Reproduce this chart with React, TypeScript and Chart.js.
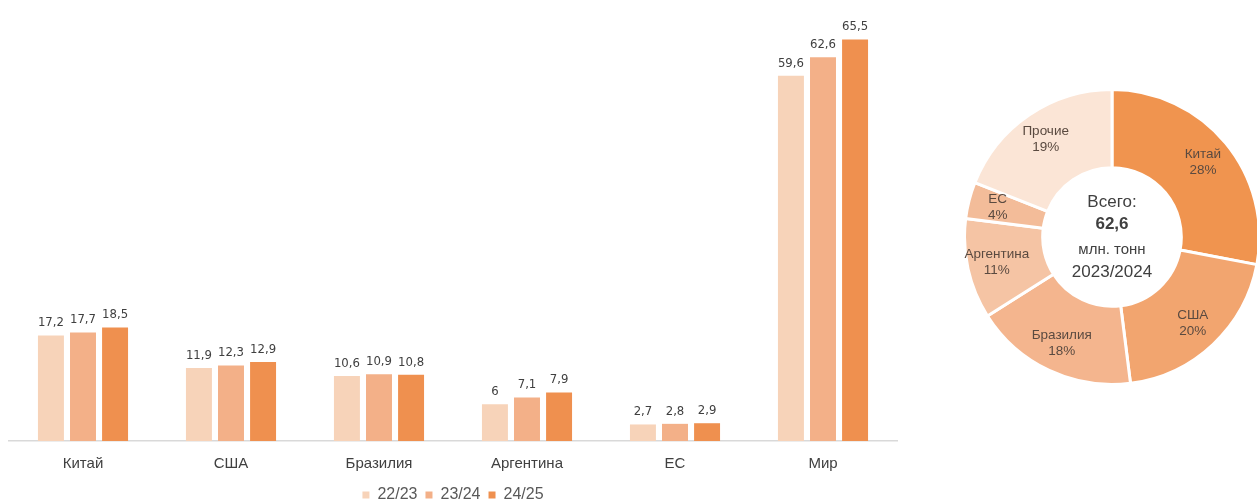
import React, { useEffect, useRef } from "react";
import { Chart, registerables } from "chart.js";

Chart.register(...registerables);

const categories = ["Китай", "США", "Бразилия", "Аргентина", "ЕС", "Мир"];
const seriesNames = ["22/23", "23/24", "24/25"];
const values2223 = [17.2, 11.9, 10.6, 6, 2.7, 59.6];
const values2324 = [17.7, 12.3, 10.9, 7.1, 2.8, 62.6];
const values2425 = [18.5, 12.9, 10.8, 7.9, 2.9, 65.5];
const barColors = ["#F7D3B9", "#F3B088", "#EF904F"];

const pieLabels = ["Китай", "США", "Бразилия", "Аргентина", "ЕС", "Прочие"];
const pieValues = [28, 20, 18, 11, 4, 19];
const pieColors = ["#F0944F", "#F2A56F", "#F4B58E", "#F5C4A4", "#F3BC99", "#FBE5D6"];
const centerLines = ["Всего:", "62,6", "млн. тонн", "2023/2024"];

const fmt = (v: number) => String(v).replace(".", ",");

const barLabelPlugin = {
  id: "barLabels",
  afterDatasetsDraw(chart: any) {
    const ctx = chart.ctx;
    ctx.save();
    ctx.font = "13px 'Liberation Sans Narrow', 'DejaVu Sans Condensed', sans-serif";
    ctx.fillStyle = "#404040";
    ctx.textAlign = "center";
    ctx.textBaseline = "bottom";
    chart.data.datasets.forEach((ds: any, i: number) => {
      const meta = chart.getDatasetMeta(i);
      meta.data.forEach((el: any, j: number) => {
        ctx.fillText(fmt(ds.data[j]), el.x, el.y - 6);
      });
    });
    ctx.restore();
  },
};

const donutLabelPlugin = {
  id: "donutLabels",
  afterDatasetsDraw(chart: any) {
    const ctx = chart.ctx;
    const meta = chart.getDatasetMeta(0);
    ctx.save();
    ctx.textAlign = "center";
    ctx.textBaseline = "middle";
    ctx.fillStyle = "#5A4A40";
    ctx.font = "13.5px 'Liberation Sans', Arial, sans-serif";
    meta.data.forEach((arc: any, i: number) => {
      const mid = (arc.startAngle + arc.endAngle) / 2;
      const r = arc.outerRadius * 0.8;
      const x = arc.x + Math.cos(mid) * r;
      const y = arc.y + Math.sin(mid) * r;
      ctx.fillText(pieLabels[i], x, y - 8);
      ctx.fillText(pieValues[i] + "%", x, y + 8);
    });
    const a0 = meta.data[0];
    const cx = a0.x;
    const cy = a0.y;
    ctx.fillStyle = "#404040";
    ctx.font = "17px 'Liberation Sans', Arial, sans-serif";
    ctx.fillText(centerLines[0], cx, cy - 35);
    ctx.font = "bold 17px 'Liberation Sans', Arial, sans-serif";
    ctx.fillText(centerLines[1], cx, cy - 13);
    ctx.font = "15px 'Liberation Sans', Arial, sans-serif";
    ctx.fillText(centerLines[2], cx, cy + 13);
    ctx.font = "17px 'Liberation Sans', Arial, sans-serif";
    ctx.fillText(centerLines[3], cx, cy + 35);
    ctx.restore();
  },
};

export default function App() {
  const barRef = useRef<HTMLCanvasElement>(null);
  const pieRef = useRef<HTMLCanvasElement>(null);

  useEffect(() => {
    document.body.style.margin = "0";
    const bar = new Chart(barRef.current!, {
      type: "bar",
      data: {
        labels: categories,
        datasets: [values2223, values2324, values2425].map((d, i) => ({
          label: seriesNames[i],
          data: d,
          backgroundColor: barColors[i],
          categoryPercentage: 0.65,
          barPercentage: 0.81,
        })),
      },
      options: {
        responsive: false,
        animation: false,
        layout: { padding: { left: 9, right: 8, top: 12, bottom: 0 } },
        plugins: {
          legend: {
            position: "bottom",
            labels: {
              usePointStyle: true,
              pointStyle: "rect",
              boxWidth: 7,
              boxHeight: 7,
              padding: 8,
              color: "#595959",
              font: { size: 16, family: "'Liberation Sans', Arial, sans-serif" },
            },
          },
          tooltip: { enabled: false },
        },
        scales: {
          x: {
            grid: { display: false },
            border: { display: true, color: "#D9D9D9", width: 1.5 },
            ticks: {
              color: "#404040",
              padding: 6,
              font: { size: 15, family: "'Liberation Sans', Arial, sans-serif" },
            },
          },
          y: { display: false, min: 0, max: 70 },
        },
      },
      plugins: [barLabelPlugin],
    });
    const pie = new Chart(pieRef.current!, {
      type: "doughnut",
      data: {
        labels: pieLabels,
        datasets: [
          {
            data: pieValues,
            backgroundColor: pieColors,
            borderColor: "#FFFFFF",
            borderWidth: 3,
          },
        ],
      },
      options: {
        responsive: false,
        animation: false,
        cutout: "47%",
        plugins: { legend: { display: false }, tooltip: { enabled: false } },
      },
      plugins: [donutLabelPlugin],
    });
    return () => {
      bar.destroy();
      pie.destroy();
    };
  }, []);

  return (
    <div style={{ position: "relative", width: 1257, height: 501, overflow: "hidden", background: "#fff" }}>
      <canvas ref={barRef} width={905} height={513} style={{ position: "absolute", left: 0, top: 0 }} />
      <canvas ref={pieRef} width={298} height={298} style={{ position: "absolute", left: 963, top: 88 }} />
    </div>
  );
}
